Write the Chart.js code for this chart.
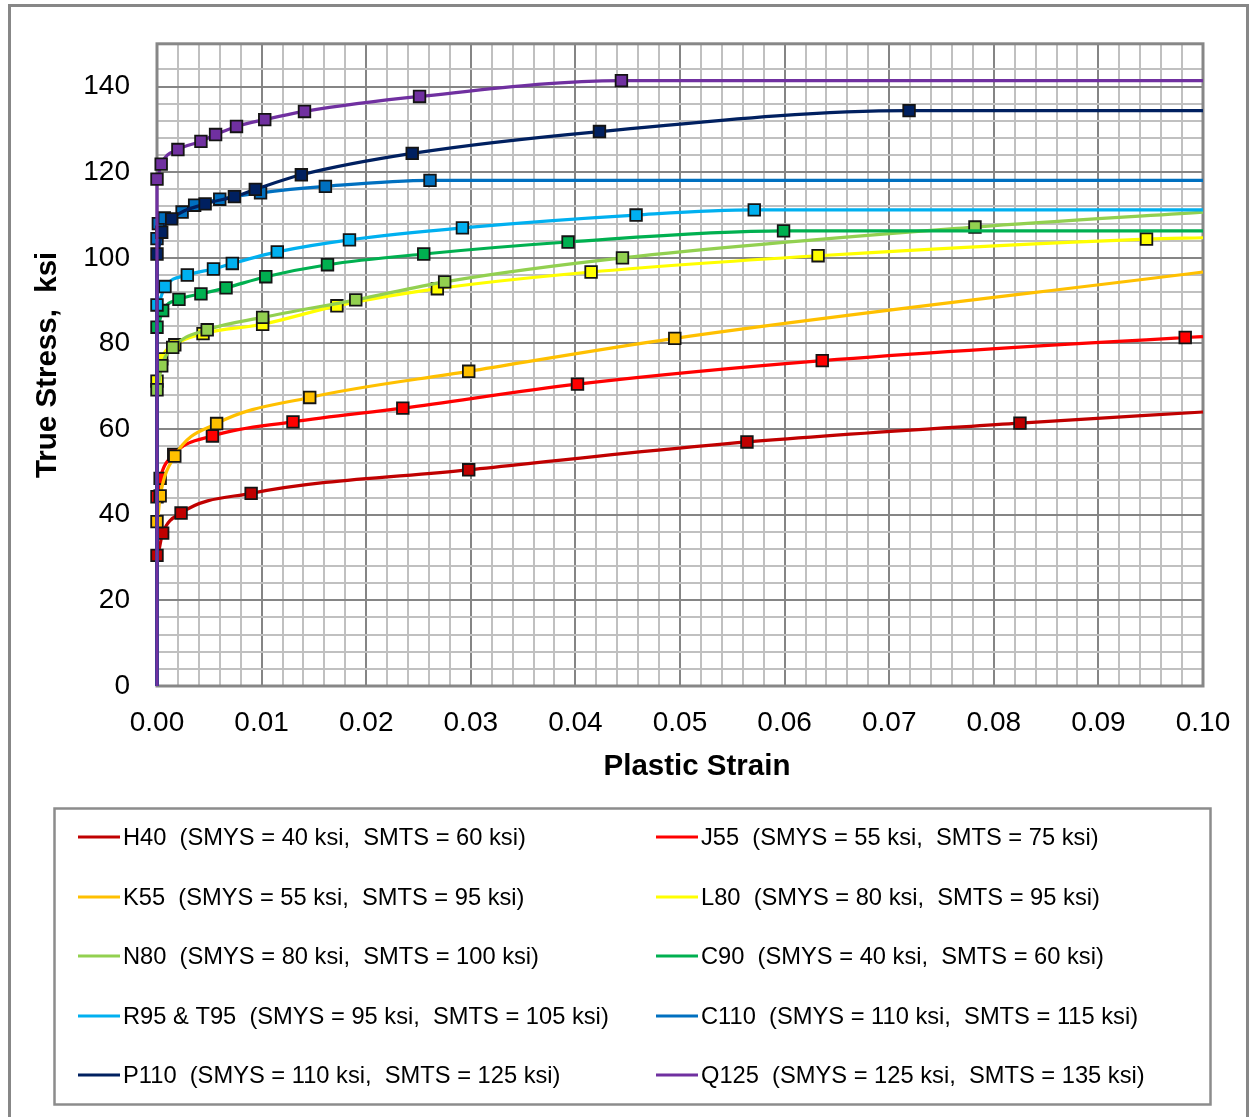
<!DOCTYPE html>
<html>
<head>
<meta charset="utf-8">
<title>True Stress vs Plastic Strain</title>
<script src="https://cdn.jsdelivr.net/npm/chart.js@4.4.0/dist/chart.umd.min.js"></script>
<style>
  html, body { margin: 0; padding: 0; background: #fff; }
  #wrap { width: 1251px; height: 1117px; }
</style>
</head>
<body>
<div id="wrap"><canvas id="stressChart" width="1251" height="1117"></canvas></div>
<script>
// Grades, in legend order
const grades = ['H40', 'J55', 'K55', 'L80', 'N80', 'C90', 'R95 & T95', 'C110', 'P110', 'Q125'];
const gradeLabels = [
  'H40  (SMYS = 40 ksi,  SMTS = 60 ksi)',
  'J55  (SMYS = 55 ksi,  SMTS = 75 ksi)',
  'K55  (SMYS = 55 ksi,  SMTS = 95 ksi)',
  'L80  (SMYS = 80 ksi,  SMTS = 95 ksi)',
  'N80  (SMYS = 80 ksi,  SMTS = 100 ksi)',
  'C90  (SMYS = 40 ksi,  SMTS = 60 ksi)',
  'R95 & T95  (SMYS = 95 ksi,  SMTS = 105 ksi)',
  'C110  (SMYS = 110 ksi,  SMTS = 115 ksi)',
  'P110  (SMYS = 110 ksi,  SMTS = 125 ksi)',
  'Q125  (SMYS = 125 ksi,  SMTS = 135 ksi)'
];
const gradeColors = ['#C00000', '#FF0000', '#FFC000', '#FFFF00', '#92D050', '#00B050', '#00B0F0', '#0070C0', '#002060', '#7030A0'];

// Plastic strain / true stress (ksi)
const h40Strain = [0, 0, 0.00054, 0.0023, 0.009, 0.0298, 0.0564, 0.0825, 0.10];
const h40Stress = [0, 30.5, 35.7, 40.4, 45.0, 50.5, 57.0, 61.4, 64.0];

const j55Strain = [0, 0, 0.0003, 0.0016, 0.0053, 0.013, 0.0235, 0.0402, 0.0636, 0.0983, 0.10];
const j55Stress = [0, 44.2, 48.5, 54.1, 58.4, 61.7, 64.9, 70.5, 76.0, 81.4, 81.6];

const k55Strain = [0, 0, 0.0003, 0.0017, 0.0057, 0.0146, 0.0298, 0.0495, 0.10];
const k55Stress = [0, 38.4, 44.4, 53.7, 61.3, 67.4, 73.5, 81.2, 96.7];

const l80Strain = [0, 0, 0.00045, 0.0017, 0.0044, 0.0101, 0.0172, 0.0268, 0.0415, 0.0632, 0.0946, 0.10];
const l80Stress = [0, 71.2, 76.4, 79.7, 82.3, 84.5, 88.8, 92.8, 96.7, 100.5, 104.4, 104.7];

const n80Strain = [0, 0, 0.00045, 0.0015, 0.0048, 0.0101, 0.019, 0.0275, 0.0445, 0.0782, 0.10];
const n80Stress = [0, 69.2, 74.8, 79.1, 83.2, 86.1, 90.2, 94.4, 100.0, 107.2, 110.7];

const c90Strain = [0, 0, 0.00054, 0.0021, 0.0042, 0.0066, 0.0104, 0.0163, 0.0255, 0.0393, 0.0599, 0.10];
const c90Stress = [0, 83.8, 87.7, 90.3, 91.6, 93.0, 95.6, 98.4, 100.9, 103.7, 106.3, 106.3];

const r95Strain = [0, 0, 0.00076, 0.0029, 0.0054, 0.0072, 0.0115, 0.0184, 0.0292, 0.0458, 0.0571, 0.10];
const r95Stress = [0, 89.0, 93.3, 96.0, 97.4, 98.7, 101.4, 104.2, 107.0, 110.0, 111.2, 111.2];

const c110Strain = [0, 0, 0.00013, 0.0007, 0.0024, 0.0036, 0.006, 0.0099, 0.0161, 0.0261, 0.10];
const c110Stress = [0, 104.5, 108.0, 109.3, 110.7, 112.3, 113.7, 115.2, 116.7, 118.1, 118.1];

const p110Strain = [0, 0, 0.00045, 0.0014, 0.0046, 0.0074, 0.0094, 0.0138, 0.0244, 0.0423, 0.0719, 0.10];
const p110Stress = [0, 100.9, 106.0, 109.1, 112.6, 114.3, 116.0, 119.4, 124.4, 129.5, 134.4, 134.4];

const q125Strain = [0, 0, 0.0004, 0.002, 0.0042, 0.0056, 0.0076, 0.0103, 0.0141, 0.0251, 0.0444, 0.10];
const q125Stress = [0, 118.4, 121.9, 125.3, 127.2, 128.8, 130.7, 132.3, 134.2, 137.7, 141.4, 141.4];

const strainSets = [h40Strain, j55Strain, k55Strain, l80Strain, n80Strain, c90Strain, r95Strain, c110Strain, p110Strain, q125Strain];
const stressSets = [h40Stress, j55Stress, k55Stress, l80Stress, n80Stress, c90Stress, r95Stress, c110Stress, p110Stress, q125Stress];

// Axis ticks
const strainTickLabels = ['0.00', '0.01', '0.02', '0.03', '0.04', '0.05', '0.06', '0.07', '0.08', '0.09', '0.10'];
const stressTickLabels = ['0', '20', '40', '60', '80', '100', '120', '140'];

const FONT = "'Liberation Sans', Arial, Helvetica, sans-serif";

// Build one scatter-line dataset per grade
function buildDatasets() {
  return grades.map(function(g, i) {
    const xs = strainSets[i];
    const ys = stressSets[i];
    const pts = xs.map((x, k) => ({ x: x, y: ys[k] }));
    // no marker on the origin point and on the run-out to the axis edge
    const radii = pts.map((p, k) => (k === 0 || k === pts.length - 1) ? 0 : 8.2);
    return {
      label: gradeLabels[i],
      data: pts,
      showLine: true,
      borderColor: gradeColors[i],
      backgroundColor: gradeColors[i],
      borderWidth: 3.2,
      cubicInterpolationMode: 'monotone',
      pointStyle: 'rect',
      pointRadius: radii,
      pointHoverRadius: radii,
      pointBackgroundColor: gradeColors[i],
      pointBorderColor: '#141414',
      pointBorderWidth: 1.8,
      clip: false,
      order: grades.length - i
    };
  });
}

// Frames, x title and two-column legend drawn on the canvas
const decorPlugin = {
  id: 'decor',
  beforeDraw(chart) {
    const ctx = chart.ctx;
    ctx.save();
    ctx.fillStyle = '#fff';
    ctx.fillRect(0, 0, chart.width, chart.height);
    ctx.strokeStyle = '#878787';
    ctx.lineWidth = 3;
    ctx.strokeRect(9.5, 5.5, 1238, 1125);
    ctx.lineWidth = 2.5;
    ctx.strokeStyle = '#8c8c8c';
    ctx.strokeRect(54.5, 808.5, 1156, 296);
    ctx.restore();
  },
  beforeDatasetsDraw(chart) {
    const a = chart.chartArea;
    const ctx = chart.ctx;
    ctx.save();
    ctx.strokeStyle = '#878787';
    ctx.lineWidth = 3;
    ctx.strokeRect(a.left, a.top, a.right - a.left, a.bottom - a.top);
    ctx.restore();
  },
  afterDraw(chart) {
    const ctx = chart.ctx;
    ctx.save();
    ctx.fillStyle = '#000';
    ctx.font = 'bold 29.5px ' + FONT;
    ctx.textAlign = 'center';
    ctx.textBaseline = 'middle';
    ctx.fillText('Plastic Strain', 697, 767);

    const rowY = [837, 897, 956, 1016, 1075];
    const colX = [78, 656];
    ctx.font = '23.7px ' + FONT;
    ctx.textAlign = 'left';
    grades.forEach(function(g, i) {
      const x = colX[i % 2];
      const y = rowY[Math.floor(i / 2)];
      ctx.strokeStyle = gradeColors[i];
      ctx.lineWidth = 3;
      ctx.beginPath();
      ctx.moveTo(x, y);
      ctx.lineTo(x + 42, y);
      ctx.stroke();
      ctx.fillStyle = '#000';
      ctx.fillText(gradeLabels[i], x + 45, y + 1);
    });
    ctx.restore();
  }
};

function gridColor(ctx) {
  return ctx.index % 5 === 0 ? '#858585' : '#c0c0c0';
}

document.addEventListener('DOMContentLoaded', function() {
  const canvas = document.getElementById('stressChart');
  new Chart(canvas.getContext('2d'), {
    type: 'scatter',
    data: { datasets: buildDatasets() },
    plugins: [decorPlugin],
    options: {
      responsive: false,
      animation: false,
      devicePixelRatio: 1,
      events: [],
      layout: { padding: { left: 30, top: 42, right: 48, bottom: 371 } },
      plugins: {
        legend: { display: false },
        tooltip: { enabled: false },
        title: { display: false }
      },
      scales: {
        x: {
          type: 'linear',
          min: 0,
          max: 0.1,
          afterFit: function(scale) { scale.height = 60; },
          border: { display: false },
          grid: { color: gridColor, lineWidth: 2, drawTicks: false },
          ticks: {
            stepSize: 0.002,
            autoSkip: false,
            maxRotation: 0,
            minRotation: 0,
            padding: 20,
            color: '#000',
            font: { family: FONT, size: 28 },
            callback: function(v, i) { return i % 5 === 0 ? strainTickLabels[i / 5] : ''; }
          }
        },
        y: {
          type: 'linear',
          min: 0,
          max: 150,
          afterFit: function(scale) { scale.width = 127; },
          border: { display: false },
          grid: { color: gridColor, lineWidth: 2, drawTicks: false },
          title: {
            display: true,
            text: 'True Stress,  ksi',
            color: '#000',
            font: { family: FONT, size: 29.5, weight: 'bold' },
            padding: { top: 0, bottom: 0 }
          },
          ticks: {
            stepSize: 4,
            autoSkip: false,
            padding: 27,
            color: '#000',
            font: { family: FONT, size: 28 },
            callback: function(v, i) { return (i % 5 === 0 && i / 5 < stressTickLabels.length) ? stressTickLabels[i / 5] : ''; }
          }
        }
      }
    }
  });
});
</script>
</body>
</html>
